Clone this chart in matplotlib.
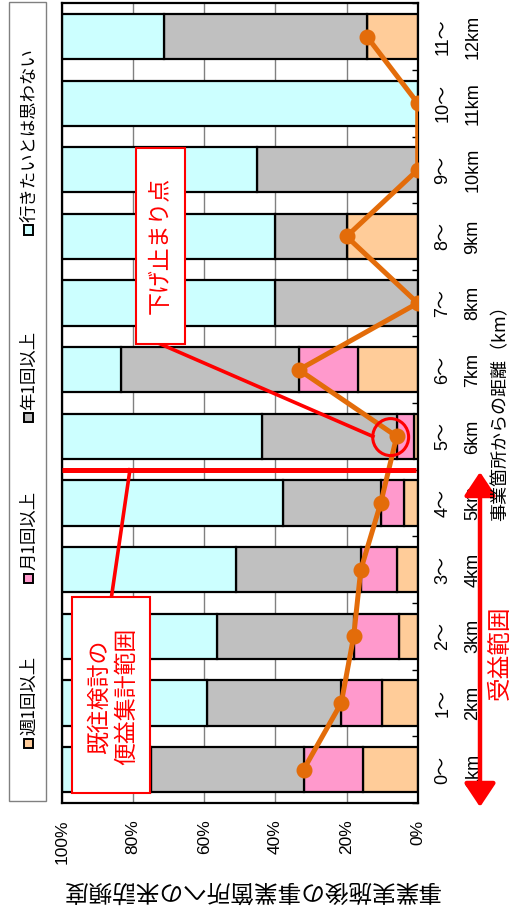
import numpy as np
import matplotlib.pyplot as plt
from matplotlib.patches import Rectangle, Ellipse, FancyArrowPatch

plt.rcParams['font.family'] = ['Noto Sans CJK JP', 'DejaVu Sans']

# distance classes (bottom -> top in the rotated layout)
cat_top = ['0～', '1～', '2～', '3～', '4～', '5～', '6～', '7～', '8～', '9～', '10～', '11～']
cat_bottom = ['1km', '2km', '3km', '4km', '5km', '6km', '7km', '8km', '9km', '10km', '11km', '12km']

# share of visit frequency (%)
week = [15.3, 9.9, 5.2, 5.9, 3.8, 1.0, 16.7, 0, 20.0, 0, 0, 14.3]
month = [16.8, 11.6, 12.8, 10.1, 6.6, 4.9, 16.7, 0, 0, 0, 0, 0]
year = [42.9, 37.7, 38.4, 35.0, 27.6, 37.8, 50.0, 40.0, 20.0, 45.1, 0, 57.1]
never = [25.0, 40.8, 43.6, 49.0, 62.0, 56.3, 16.6, 60.0, 60.0, 54.9, 100.0, 28.6]

pct_ticks = [0, 20, 40, 60, 80, 100]
pct_labels = ['0%', '20%', '40%', '60%', '80%', '100%']
legend_labels = ['週1回以上', '月1回以上', '年1回以上', '行きたいとは思わない']
colors = ['#ffcc99', '#ff99cc', '#c0c0c0', '#ccffff']

num_font = ['Liberation Sans Narrow', 'Liberation Sans', 'Noto Sans CJK JP']

W, H = 518, 908
fig = plt.figure(figsize=(W / 100, H / 100), dpi=100)
ax = fig.add_axes([62 / W, (H - 803) / H, 355.7 / W, 799.8 / H])

y = np.arange(len(cat_top))
left = np.zeros(len(y))
for vals, c in zip([week, month, year, never], colors):
    ax.barh(y, vals, left=left, height=0.68, color=c, edgecolor='black', linewidth=1.6, zorder=2)
    left = left + np.array(vals)

# at least monthly visits
visit = np.array(week) + np.array(month)
ax.plot(visit, y, color='#e36c0a', linewidth=3.6, marker='o', markersize=10.5, zorder=5)

ax.set_xlim(100, 0)
ax.set_ylim(-0.5, len(y) - 0.5)
ax.set_axisbelow(True)
ax.grid(axis='x', color='#808080', linewidth=1)
ax.set_xticks(pct_ticks)
ax.set_xticklabels(pct_labels, rotation=90, family=num_font, fontsize=12.5)
ax.tick_params(axis='x', length=0, pad=12)
ax.set_yticks(np.arange(-0.5, len(y), 1))
ax.set_yticklabels([])
ax.tick_params(axis='y', left=False, right=True, direction='in', length=4, width=1)
for s in ax.spines.values():
    s.set_linewidth(1.6)

# category labels on the right
for i in range(len(y)):
    ax.text((443 - 62) / 355.7, i, cat_top[i], transform=ax.get_yaxis_transform(),
            rotation=90, ha='center', va='center', fontsize=13, family=num_font)
    ax.text((473 - 62) / 355.7, i, cat_bottom[i], transform=ax.get_yaxis_transform(),
            rotation=90, ha='center', va='center', fontsize=13, family=num_font)

# boundary of former study
ax.plot([100, 0.6], [4.5, 4.5], color='red', linewidth=3.6, zorder=6, solid_capstyle='butt')
ax.plot([86.1, 80.9], [2.59, 4.5], color='red', linewidth=2.6, zorder=6)
ax.add_patch(Rectangle((75.3, -0.35), 21.9, 2.94, facecolor='white', edgecolor='red',
                       linewidth=1.5, zorder=7))
ax.text(85.8, 1.1, '既往検討の\n便益集計範囲', rotation=90, ha='center', va='center',
        multialignment='center', color='red', fontsize=16.5, linespacing=1.25, zorder=8)

# bottoming-out point
ax.plot([72.5, 12.6], [6.39, 5.0], color='red', linewidth=2.6, zorder=6)
ax.add_patch(Ellipse((7.6, 4.99), 10.1, 0.555, facecolor='none', edgecolor='red',
                     linewidth=2.2, zorder=7))
ax.add_patch(Rectangle((65.4, 6.39), 13.8, 2.94, facecolor='white', edgecolor='red',
                       linewidth=1.5, zorder=7))
ax.text(72.4, 7.86, '下げ止まり点', rotation=90, ha='center', va='center',
        color='red', fontsize=16.5, zorder=8)

# legend
fig.add_artist(Rectangle((9 / W, 1 - 801 / H), 37 / W, 799 / H, transform=fig.transFigure,
                         facecolor='white', edgecolor='#808080', linewidth=1))
legend_y = [743, 578, 418, 230]
for lab, c, my in zip(legend_labels, colors, legend_y):
    fig.add_artist(Rectangle(((28 - 4.5) / W, 1 - (my + 4.5) / H), 9 / W, 9 / H,
                             transform=fig.transFigure, facecolor=c, edgecolor='black',
                             linewidth=1.4))
    fig.text(29 / W, 1 - (my - 8) / H, lab, rotation=90, ha='center', va='bottom', fontsize=12.5)

# axis titles
fig.text(251 / W, 1 - 890 / H, '事業実施後の事業箇所への来訪頻度', rotation=180,
         ha='center', va='center', fontsize=17)
fig.text(500 / W, 1 - 409 / H, '事業箇所からの距離（km）', rotation=90,
         ha='center', va='center', fontsize=13)

# benefit range arrow
fig.add_artist(FancyArrowPatch((480 / W, 1 - 807 / H), (480 / W, 1 - 472 / H),
                               transform=fig.transFigure,
                               arrowstyle='<|-|>,head_length=0.9,head_width=0.6',
                               mutation_scale=16, color='red', linewidth=3.2,
                               shrinkA=0, shrinkB=0))
fig.text(500 / W, 1 - 653 / H, '受益範囲', rotation=90, ha='center', va='center',
         color='red', fontsize=17)

fig.savefig('out.png', dpi=100)
